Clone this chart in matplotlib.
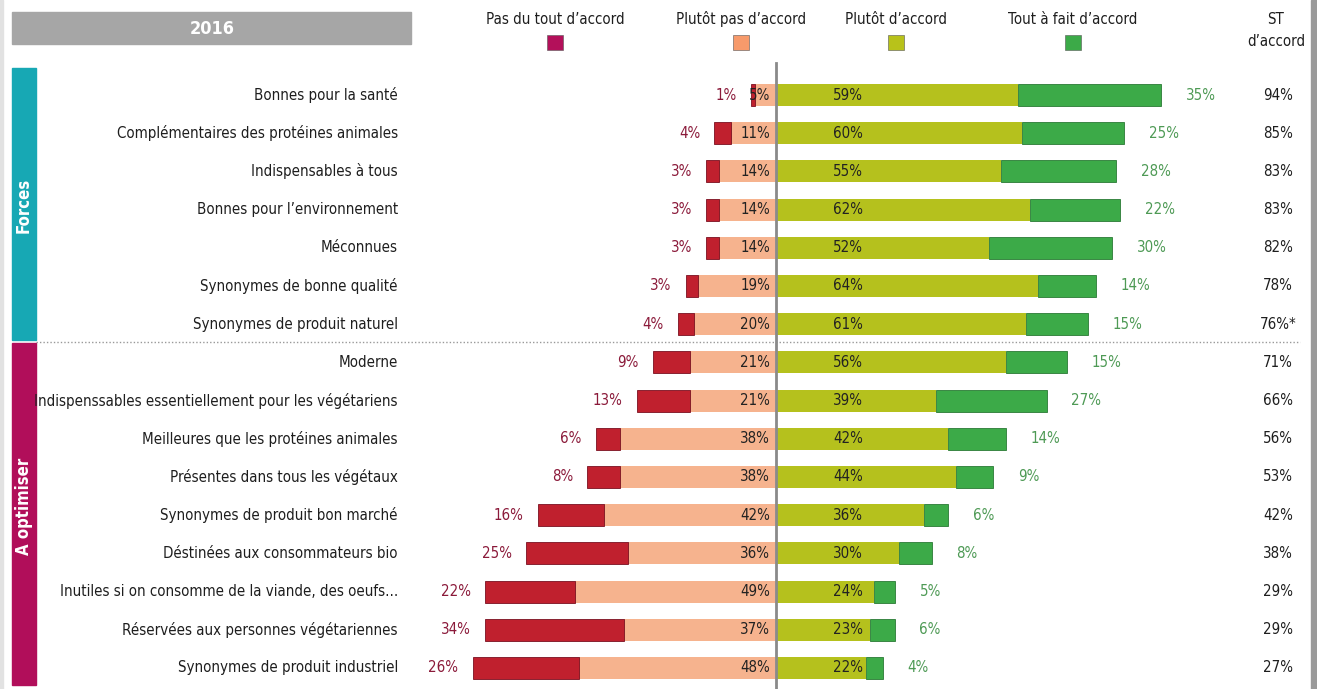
import numpy as np
import matplotlib
matplotlib.use("Agg")
import matplotlib.pyplot as plt
from matplotlib import font_manager
from matplotlib.patches import Rectangle

# pick a narrow font if one is installed
names = {f.name for f in font_manager.fontManager.ttflist}
cond = [f.fname for f in font_manager.fontManager.ttflist
        if "Condensed" in f.fname or "Narrow" in f.fname]
if "Liberation Sans Narrow" in names:
    plt.rcParams['font.family'] = ['Liberation Sans Narrow', 'DejaVu Sans']
    fs = 12.5
elif any("DejaVuSansCondensed" in c for c in cond):
    plt.rcParams['font.family'] = ['DejaVu Sans']
    plt.rcParams['font.stretch'] = 'condensed'
    fs = 10.8
else:
    plt.rcParams['font.family'] = ['Liberation Sans', 'DejaVu Sans']
    fs = 11

# data
categories = [
    "Bonnes pour la santé",
    "Complémentaires des protéines animales",
    "Indispensables à tous",
    "Bonnes pour l\u2019environnement",
    "Méconnues",
    "Synonymes de bonne qualité",
    "Synonymes de produit naturel",
    "Moderne",
    "Indispenssables essentiellement pour les végétariens",
    "Meilleures que les protéines animales",
    "Présentes dans tous les végétaux",
    "Synonymes de produit bon marché",
    "Déstinées aux consommateurs bio",
    "Inutiles si on consomme de la viande, des oeufs...",
    "Réservées aux personnes végétariennes",
    "Synonymes de produit industriel",
]
pas_du_tout = [1, 4, 3, 3, 3, 3, 4, 9, 13, 6, 8, 16, 25, 22, 34, 26]
plutot_pas = [5, 11, 14, 14, 14, 19, 20, 21, 21, 38, 38, 42, 36, 49, 37, 48]
plutot = [59, 60, 55, 62, 52, 64, 61, 56, 39, 42, 44, 36, 30, 24, 23, 22]
tout_a_fait = [35, 25, 28, 22, 30, 14, 15, 15, 27, 14, 9, 6, 8, 5, 6, 4]
st_accord = ["94%", "85%", "83%", "83%", "82%", "78%", "76%*", "71%", "66%",
             "56%", "53%", "42%", "38%", "29%", "29%", "27%"]
legend_labels = ["Pas du tout d\u2019accord", "Plutôt pas d\u2019accord",
                 "Plutôt d\u2019accord", "Tout à fait d\u2019accord"]

c_dark = "#C0202E"
c_salmon = "#F6B38E"
c_yellow = "#B5C11D"
c_green = "#3CAA48"
leg_colors = ["#B3105A", "#F79A6B", "#B8C21A", "#3CAA48"]

# pixel layout helpers
W, H = 1317, 689
CX, S = 776, 4.1      # centre line px, px per percent
Y0, R = 95, 38.2      # first row px, row step px


def X(px):
    return (px - CX) / S


def Y(py):
    return (py - Y0) / R


fig = plt.figure(figsize=(W / 100, H / 100), dpi=100)
ax = fig.add_axes([0, 0, 1, 1])
ax.set_xlim(X(0), X(W))
ax.set_ylim(Y(H), Y(0))
ax.axis("off")

n = len(categories)
rows = np.arange(n)
pd_ = np.array(pas_du_tout)
pp = np.array(plutot_pas)
pl = np.array(plutot)
tf = np.array(tout_a_fait)
bh = 0.58

ax.barh(rows, -pp, height=bh, color=c_salmon, zorder=2)
ax.barh(rows, -pd_, left=-pp, height=bh, color=c_dark, edgecolor="#7a1020",
        linewidth=0.6, zorder=2)
ax.barh(rows, pl, height=bh, color=c_yellow, zorder=2)
ax.barh(rows, tf, left=pl, height=bh, color=c_green, edgecolor="#2a7a34",
        linewidth=0.6, zorder=2)

for i in range(n):
    ax.text(X(398), i, categories[i], ha="right", va="center", fontsize=fs, color="#1e1e1e")
    ax.text(-(pp[i] + pd_[i]) - 3.5, i, f"{pd_[i]}%", ha="right", va="center",
            fontsize=fs, color="#8B1A3A")
    ax.text(X(770), i, f"{pp[i]}%", ha="right", va="center", fontsize=fs,
            color="#222222", zorder=3)
    ax.text(X(848), i, f"{pl[i]}%", ha="center", va="center", fontsize=fs,
            color="#222222", zorder=3)
    ax.text(pl[i] + tf[i] + 6, i, f"{tf[i]}%", ha="left", va="center",
            fontsize=fs, color="#4E9A55")
    ax.text(X(1278), i, st_accord[i], ha="center", va="center", fontsize=fs,
            color="#1e1e1e")

# centre line
ax.plot([0, 0], [Y(63), Y(H)], color="#8a8a8a", lw=2, zorder=4)

# separator between groups
ax.plot([X(36), X(1300)], [Y(342), Y(342)], color="#999999", lw=1,
        linestyle=(0, (1, 1.5)), zorder=1)

# side group bars
ax.add_patch(Rectangle((X(12), Y(68)), X(36) - X(12), Y(340) - Y(68),
                       color="#17A8B4", zorder=1))
ax.add_patch(Rectangle((X(12), Y(343)), X(36) - X(12), Y(685) - Y(343),
                       color="#B10E5A", zorder=1))
ax.text(X(24), Y(205), "Forces", rotation=90, ha="center", va="center",
        color="white", fontsize=12, fontweight="bold")
ax.text(X(24), Y(506), "A optimiser", rotation=90, ha="center", va="center",
        color="white", fontsize=12, fontweight="bold")

# header
ax.add_patch(Rectangle((X(12), Y(12)), X(411) - X(12), Y(44) - Y(12),
                       color="#A6A6A6", zorder=1))
ax.text(X(212), Y(29), "2016", ha="center", va="center", color="white",
        fontsize=13, fontweight="bold")

# legend
leg_x = [555, 741, 896, 1073]
for lx, lab, col in zip(leg_x, legend_labels, leg_colors):
    ax.text(X(lx), Y(19), lab, ha="center", va="center", fontsize=fs, color="#1e1e1e")
    ax.add_patch(Rectangle((X(lx - 8), Y(35)), 16 / S, 15 / R, facecolor=col,
                           edgecolor="#555555", linewidth=0.4, zorder=2))
ax.text(X(1276), Y(19), "ST", ha="center", va="center", fontsize=fs, color="#1e1e1e")
ax.text(X(1276), Y(42), "d\u2019accord", ha="center", va="center", fontsize=fs,
        color="#1e1e1e")

# frame edges
ax.add_patch(Rectangle((X(1311), Y(0)), 6 / S, Y(H) - Y(0), color="#9a9a9a",
                       zorder=1))
ax.add_patch(Rectangle((X(0), Y(0)), 3 / S, Y(H) - Y(0), color="#e2e2e2",
                       zorder=1))

fig.savefig("out.png", dpi=100)
